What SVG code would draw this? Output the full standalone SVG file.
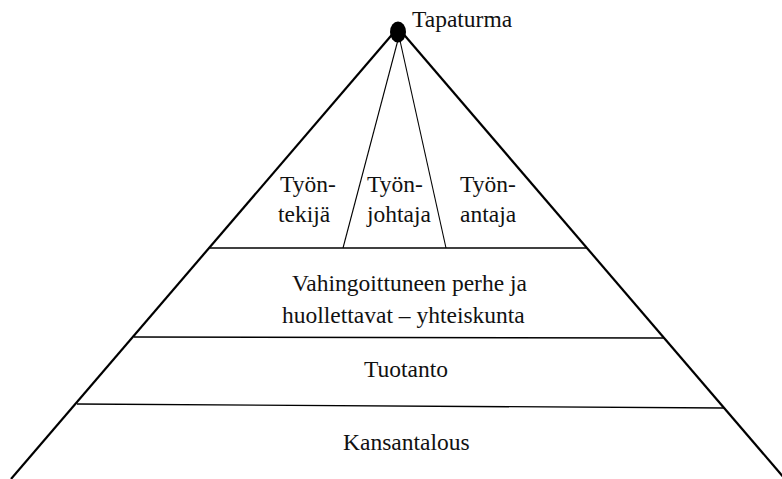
<svg xmlns="http://www.w3.org/2000/svg" width="782" height="479" viewBox="0 0 782 479">
<style>
  text { font-family: "Liberation Serif", "Times New Roman", serif; font-size: 23.5px; fill: #111; }
  .outer { stroke: #000; stroke-width: 2.2; fill: none; }
  .hline { stroke: #000; stroke-width: 1.4; fill: none; }
  .inner { stroke: #000; stroke-width: 1.1; fill: none; }
</style>
<rect width="782" height="479" fill="#fff"/>
<g id="connectors">
  <line class="outer" x1="396" y1="30" x2="11" y2="479"/>
  <line class="outer" x1="400" y1="30" x2="785" y2="479"/>
  <line class="inner" x1="399" y1="36" x2="343" y2="248"/>
  <line class="inner" x1="399" y1="36" x2="446" y2="248"/>
  <line class="hline" x1="210" y1="248" x2="587" y2="248"/>
  <line class="hline" x1="134" y1="337" x2="664" y2="338"/>
  <line class="hline" x1="77" y1="404" x2="724" y2="408"/>
</g>
<g id="apex">
  <ellipse cx="398" cy="32" rx="8" ry="10.5" fill="#000"/>
  <text x="412" y="27">Tapaturma</text>
</g>
<g id="tyontekija">
  <text x="280" y="192">Työn-</text>
  <text x="278" y="222">tekijä</text>
</g>
<g id="tyonjohtaja">
  <text x="367" y="192">Työn-</text>
  <text x="367" y="222">johtaja</text>
</g>
<g id="tyonantaja">
  <text x="460" y="192">Työn-</text>
  <text x="460" y="222">antaja</text>
</g>
<g id="perhe">
  <text x="292" y="291">Vahingoittuneen perhe ja</text>
  <text x="282" y="323">huollettavat – yhteiskunta</text>
</g>
<g id="tuotanto">
  <text x="364" y="377">Tuotanto</text>
</g>
<g id="kansantalous">
  <text x="343" y="450">Kansantalous</text>
</g>
</svg>
